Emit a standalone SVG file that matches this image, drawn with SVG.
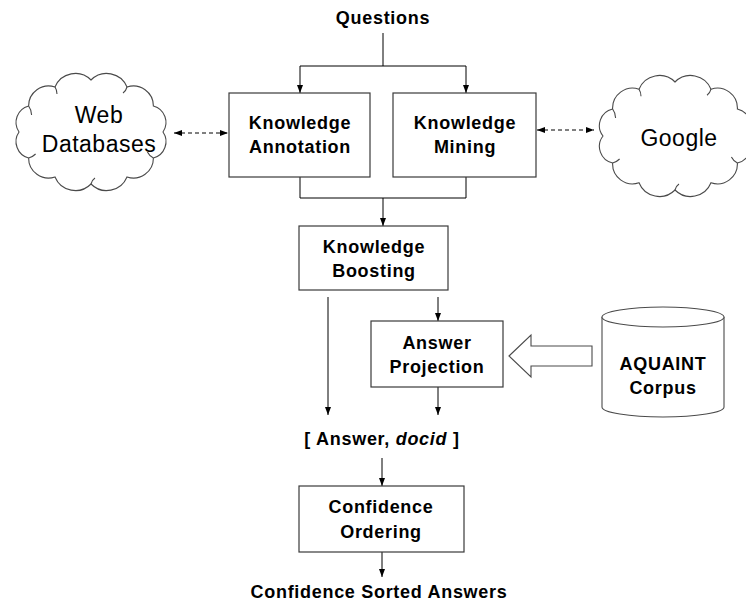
<svg xmlns="http://www.w3.org/2000/svg" width="746" height="604" viewBox="0 0 746 604">
  <style>
    .box { fill: #ffffff; stroke: #3a3a3a; stroke-width: 1.2; }
    .shape { fill: #ffffff; stroke: #4a4a4a; stroke-width: 1.1; }
    .hint { fill: none; stroke: #4a4a4a; stroke-width: 1.1; }
    .lbl { font-family: "Liberation Sans", Arial, sans-serif; font-weight: bold; font-size: 18px; letter-spacing: 0.7px; text-anchor: middle; fill: #000; }
    .cloudtxt { font-family: "Liberation Sans", Arial, sans-serif; font-size: 23px; letter-spacing: 0.5px; text-anchor: middle; fill: #000; }
    .wire { fill: none; stroke: #000; stroke-width: 1; }
    .dash { fill: none; stroke: #000; stroke-width: 1; stroke-dasharray: 4 3; }
  </style>
  <defs>
    <marker id="ah" viewBox="0 0 8 8" refX="8" refY="4" markerWidth="8" markerHeight="8" markerUnits="userSpaceOnUse" orient="auto-start-reverse">
      <path d="M0,1 L8,4 L0,7 z" fill="#000"/>
    </marker>
  </defs>
  <rect width="746" height="604" fill="#ffffff"/>

  <!-- connectors -->
  <g id="connectors">
    <path class="wire" d="M383,33 V66"/>
    <path class="wire" d="M300,93 V66 H466 V93" marker-start="url(#ah)" marker-end="url(#ah)"/>
    <path class="wire" d="M300,177 V198 H466 V177"/>
    <path class="wire" d="M383,198 V226" marker-end="url(#ah)"/>
    <path class="wire" d="M328,297 V415" marker-end="url(#ah)"/>
    <path class="wire" d="M438,297 V321" marker-end="url(#ah)"/>
    <path class="wire" d="M438,387 V415" marker-end="url(#ah)"/>
    <path class="wire" d="M382,458 V486" marker-end="url(#ah)"/>
    <path class="wire" d="M382,552 V577" marker-end="url(#ah)"/>
    <path class="dash" d="M174,133 H228" marker-start="url(#ah)" marker-end="url(#ah)"/>
    <path class="dash" d="M537,130 H594" marker-start="url(#ah)" marker-end="url(#ah)"/>
    <!-- hollow block arrow from the corpus into answer projection -->
    <polygon class="shape" points="509,356 531,335 531,346 592,346 592,366 531,366 531,377"/>
  </g>

  <g id="questions">
    <text class="lbl" x="383" y="24">Questions</text>
  </g>

  <g id="web-databases">
    <path class="shape" d="M19,132 A17,17 0 0 1 28.6,106 A20,20 0 0 1 55,87 A22,22 0 0 1 91,80 A22,22 0 0 1 127,87 A20,20 0 0 1 153.4,106 A17,17 0 0 1 163,132 A17,17 0 0 1 153.4,158 A20,20 0 0 1 127,177 A22,22 0 0 1 91,184 A22,22 0 0 1 55,177 A20,20 0 0 1 28.6,158 A17,17 0 0 1 19,132 z"/>
    <path class="hint" d="M28.6,106 q3,4 3,9 M55,87 q2,3 2,7 M127,87 q-1,4 -4,6 M153.4,158 q-4,-2 -6,-6 M91,184 q1,-4 4,-6 M28.6,158 q4,-1 7,-4"/>
    <text class="cloudtxt" x="99" y="123">Web</text>
    <text class="cloudtxt" x="99" y="152">Databases</text>
  </g>

  <g id="google">
    <path class="shape" d="M603,136 A17,17 0 0 1 612.6,109 A20,20 0 0 1 639,89.2 A22,22 0 0 1 675,82 A22,22 0 0 1 711,89.2 A20,20 0 0 1 737.4,109 A17,17 0 0 1 747,136 A17,17 0 0 1 737.4,163 A20,20 0 0 1 711,182.8 A22,22 0 0 1 675,190 A22,22 0 0 1 639,182.8 A20,20 0 0 1 612.6,163 A17,17 0 0 1 603,136 z"/>
    <path class="hint" d="M612.6,109 q3,4 3,9 M639,89.2 q2,3 2,7 M711,89.2 q-1,4 -4,6 M737.4,163 q-4,-2 -6,-6 M675,190 q1,-4 4,-6 M612.6,163 q4,-1 7,-4"/>
    <text class="cloudtxt" x="679" y="146">Google</text>
  </g>

  <g id="knowledge-annotation">
    <rect class="box" x="229" y="93" width="141" height="84"/>
    <text class="lbl" x="300" y="129">Knowledge</text>
    <text class="lbl" x="300" y="153">Annotation</text>
  </g>

  <g id="knowledge-mining">
    <rect class="box" x="393" y="93" width="143" height="84"/>
    <text class="lbl" x="465" y="129">Knowledge</text>
    <text class="lbl" x="465" y="153">Mining</text>
  </g>

  <g id="knowledge-boosting">
    <rect class="box" x="299" y="226" width="149" height="64"/>
    <text class="lbl" x="374" y="253">Knowledge</text>
    <text class="lbl" x="374" y="277">Boosting</text>
  </g>

  <g id="answer-projection">
    <rect class="box" x="371" y="321" width="132" height="66"/>
    <text class="lbl" x="437" y="349">Answer</text>
    <text class="lbl" x="437" y="373">Projection</text>
  </g>

  <g id="aquaint-corpus">
    <path class="shape" d="M602,317 V407 A61,10 0 0 0 724,407 V317"/>
    <ellipse class="shape" cx="663" cy="317" rx="61" ry="10"/>
    <text class="lbl" x="663" y="370">AQUAINT</text>
    <text class="lbl" x="663" y="394">Corpus</text>
  </g>

  <g id="answer-docid">
    <text class="lbl" x="382" y="445">[ Answer, <tspan font-style="italic">docid</tspan> ]</text>
  </g>

  <g id="confidence-ordering">
    <rect class="box" x="299" y="486" width="165" height="66"/>
    <text class="lbl" x="381" y="513">Confidence</text>
    <text class="lbl" x="381" y="538">Ordering</text>
  </g>

  <g id="sorted-answers">
    <text class="lbl" x="379" y="598">Confidence Sorted Answers</text>
  </g>
</svg>
